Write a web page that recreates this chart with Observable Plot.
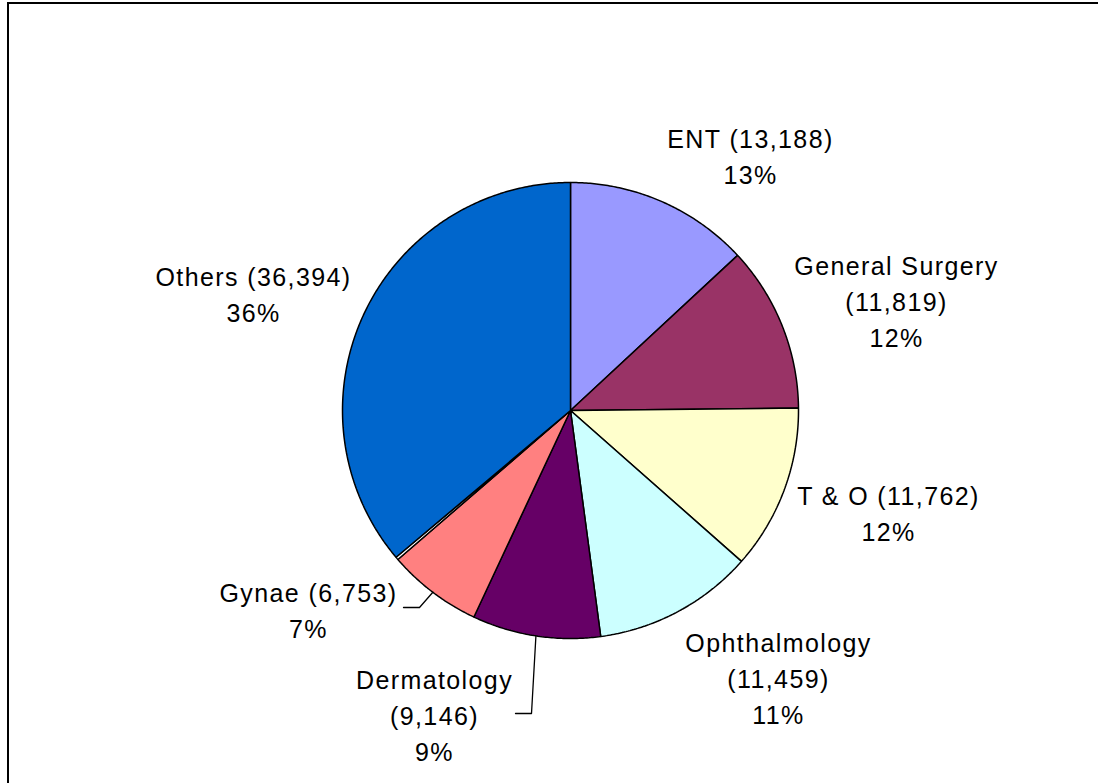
<!DOCTYPE html>
<html>
<head>
<meta charset="utf-8">
<script src="https://cdn.jsdelivr.net/npm/d3@7"></script>
<script src="https://cdn.jsdelivr.net/npm/@observablehq/plot@0.6"></script>
<style>
  html, body { margin: 0; padding: 0; background: #fff; overflow: hidden; }
  #wrap { position: relative; width: 1098px; height: 783px; overflow: hidden; }
  #chart { position: absolute; left: 0; top: 0; }
  #chart svg text { letter-spacing: 1.4px; }
  #border { position: absolute; left: 7px; top: 2px; width: 2000px; height: 2000px;
            border-left: 2px solid #000; border-top: 2px solid #000; pointer-events: none; }
</style>
</head>
<body>
<div id="wrap"><div id="chart"></div><div id="border"></div></div>
<script>
// ---- data ----
const categories = ["ENT", "General Surgery", "T & O", "Ophthalmology", "Dermatology", "Gynae", "(unlabelled)", "Others"];
const values = [13188, 11819, 11762, 11459, 9146, 6753, 200, 36394];
const showLabel = [true, true, true, true, true, true, false, true];
const colors = ["#9999FF", "#993366", "#FFFFCC", "#CCFFFF", "#660066", "#FF8080", "#FFFFFF", "#0066CC"];

// ---- layout (pixels relative to pie centre; radius R px) ----
const W = 1098, H = 783, CX = 570, CY = 410, R = 228;
const labelLayout = [
  {dx: 180, dy: -256, wrap: false},   // ENT
  {dx: 326, dy: -111, wrap: true},    // General Surgery
  {dx: 318, dy: 101, wrap: false},    // T & O
  {dx: 208, dy: 266, wrap: true},     // Ophthalmology
  {dx: -136, dy: 303, wrap: true},    // Dermatology
  {dx: -262, dy: 198, wrap: false},   // Gynae
  null,
  {dx: -317, dy: -118, wrap: false}   // Others
];
const leaderLayout = [
  null, null, null, null,
  [{dx: -39, dy: 303}, {dx: -55, dy: 303}],   // Dermatology
  [{dx: -151, dy: 197}, {dx: -167, dy: 197}], // Gynae
  null, null
];

const total = d3.sum(values);
const fmt = d3.format(",");
const arcs = d3.pie().sort(null).value(d => d)(values);

function pt(angle, r) { return {x: r * Math.sin(angle), y: r * Math.cos(angle)}; }

const marks = [];
arcs.forEach((a, i) => {
  const pts = [{x: 0, y: 0}];
  const n = Math.max(2, Math.ceil((a.endAngle - a.startAngle) / (Math.PI / 360)));
  for (let k = 0; k <= n; k++) {
    pts.push(pt(a.startAngle + (a.endAngle - a.startAngle) * k / n, 1));
  }
  pts.push({x: 0, y: 0});
  marks.push(Plot.line(pts, {x: "x", y: "y", fill: colors[i], stroke: "#000",
    strokeWidth: 1.5, strokeLinejoin: "miter"}));
});

// leader lines
arcs.forEach((a, i) => {
  const L = leaderLayout[i];
  if (!L) return;
  const mid = (a.startAngle + a.endAngle) / 2;
  const pts = [pt(mid, 1), ...L.map(p => ({x: p.dx / R, y: -p.dy / R}))];
  marks.push(Plot.line(pts, {x: "x", y: "y", stroke: "#000", strokeWidth: 1.3}));
});

// labels
const labels = [];
arcs.forEach((a, i) => {
  if (!showLabel[i]) return;
  const L = labelLayout[i];
  const pct = Math.round(values[i] / total * 100) + "%";
  const text = L.wrap
    ? `${categories[i]}\n(${fmt(values[i])})\n${pct}`
    : `${categories[i]} (${fmt(values[i])})\n${pct}`;
  labels.push({x: L.dx / R, y: -L.dy / R, text});
});
marks.push(Plot.text(labels, {x: "x", y: "y", text: "text", fontSize: 25, lineHeight: 1.45,
  fontFamily: "Liberation Sans, Arial, sans-serif", fill: "#000", textAnchor: "middle"}));

const chart = Plot.plot({
  width: W, height: H,
  marginTop: 0, marginRight: 0, marginBottom: 0, marginLeft: 0,
  x: {domain: [-CX / R, (W - CX) / R], axis: null},
  y: {domain: [-(H - CY) / R, CY / R], axis: null},
  style: {background: "transparent", overflow: "visible"},
  marks
});
document.getElementById("chart").appendChild(chart);
</script>
</body>
</html>
